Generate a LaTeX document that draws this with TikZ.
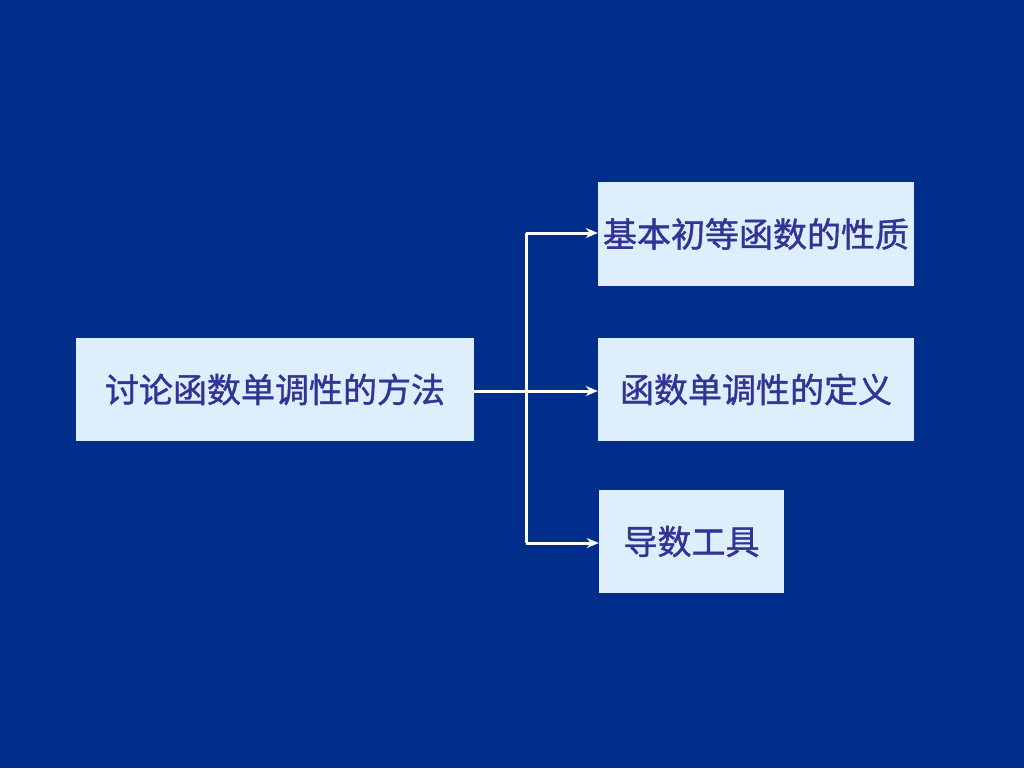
\documentclass[tikz,border=0pt]{standalone}
\usepackage{fontspec}
\newfontfamily\cjk[FakeBold=1.2]{Noto Sans CJK SC}
\usetikzlibrary{arrows.meta}
\definecolor{bg}{RGB}{0,46,138}
\definecolor{boxfill}{RGB}{222,238,252}
\definecolor{txt}{RGB}{51,51,150}
\tikzset{
  box/.style={fill=boxfill, draw=none, inner sep=0pt, font=\cjk\fontsize{34}{40}\selectfont, text=txt},
  conn/.style={draw=white, line width=3pt},
  arr/.style={conn, -{Stealth[length=12pt,width=10pt]}}
}
\begin{document}
\begin{tikzpicture}[x=1pt,y=-1pt]
\fill[bg] (0,0) rectangle (1024,768);
\useasboundingbox (0,0) rectangle (1024,768);
\node[box, minimum width=398pt, minimum height=103pt] (l) at (275,389.5) {讨论函数单调性的方法};
\node[box, minimum width=316pt, minimum height=104pt] (t) at (756,234) {基本初等函数的性质};
\node[box, minimum width=316pt, minimum height=103pt] (m) at (756,389.5) {函数单调性的定义};
\node[box, minimum width=185pt, minimum height=103pt] (b) at (691.5,541.5) {导数工具};
\coordinate (jt) at (526,233);
\coordinate (jb) at (526,543);
\coordinate (jm) at (526,391);
\draw[conn] (jt) -- (jb);
\draw[arr] (l.east |- jm) -- (m.west |- jm);
\draw[arr] (jt) -- (t.west |- jt);
\draw[arr] (jb) -- (b.west |- jb);
\end{tikzpicture}
\end{document}
